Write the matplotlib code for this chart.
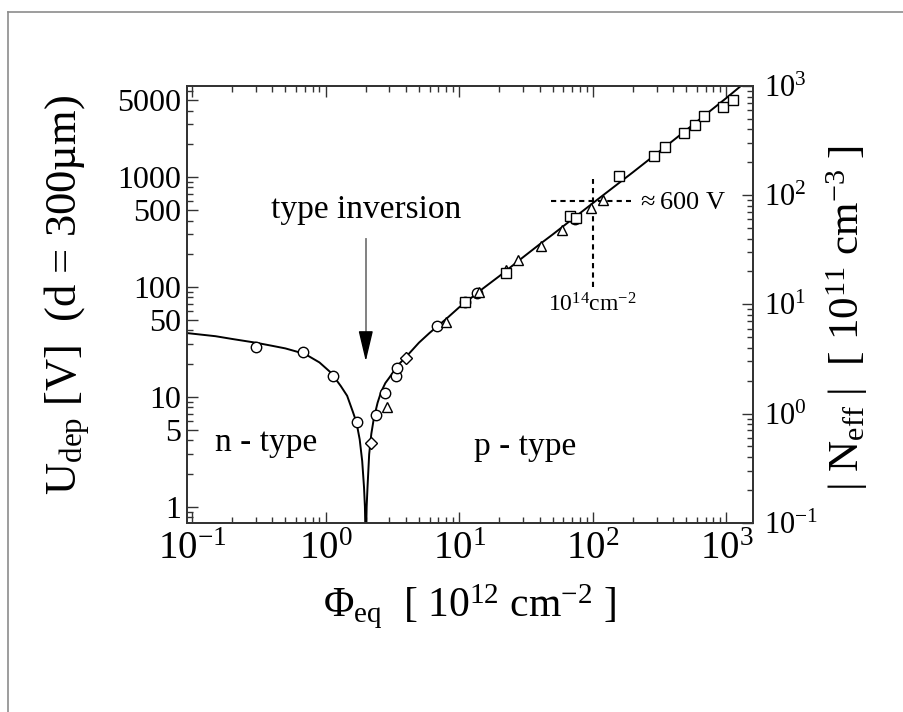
import matplotlib
matplotlib.use("Agg")
import matplotlib.pyplot as plt
from matplotlib.lines import Line2D
from matplotlib.ticker import FixedLocator, FixedFormatter, LogLocator, LogFormatterMathtext, NullFormatter

plt.rcParams["font.family"] = ["Liberation Serif", "DejaVu Serif"]
plt.rcParams["mathtext.fontset"] = "custom"
plt.rcParams["mathtext.rm"] = "Liberation Serif"
plt.rcParams["mathtext.it"] = "Liberation Serif:italic"
plt.rcParams["mathtext.bf"] = "Liberation Serif:bold"

# Fit curve |U_dep| vs fluence (n-type branch, then p-type branch)
curve_phi = [0.09, 0.15, 0.2, 0.3, 0.4, 0.5, 0.7, 0.9, 1.1, 1.3, 1.45, 1.6, 1.7, 1.8,
             1.88, 1.94, 1.97, 2.0,
             2.03, 2.06, 2.12, 2.2, 2.3, 2.45, 2.6, 2.8, 3.0, 3.5, 4.0, 5.0, 6.0, 7.0,
             8.0, 10.0, 11.0, 15.0, 20.0, 30.0, 40.0, 50.0, 70.0, 100.0, 150.0, 200.0,
             300.0, 500.0, 700.0, 1000.0, 1400.0]
curve_u = [38.0, 35.5, 33.5, 31.0, 29.0, 27.5, 24.5, 20.5, 16.5, 12.5, 10.2, 7.3, 5.9, 4.1,
           2.6, 1.5, 1.0, 0.4,
           1.0, 1.5, 3.0, 4.6, 6.4, 8.8, 11.0, 13.3, 14.9, 19.5, 23.0, 31.0, 38.0, 44.5,
           51.0, 65.0, 71.0, 96.0, 125.0, 185.0, 243.0, 298.0, 410.0, 575.0, 840.0, 1100.0,
           1620.0, 2650.0, 3680.0, 5200.0, 7300.0]

# Measured depletion voltages
circ_phi = [0.303, 0.673, 1.13, 1.71, 2.38, 2.77, 3.35, 3.4, 6.82, 11.0, 13.5, 73.0]
circ_u = [28.5, 25.3, 15.5, 5.85, 6.82, 10.7, 15.4, 18.1, 44.0, 73.0, 87.0, 410.0]

diam_phi = [2.17, 4.03]
diam_u = [3.77, 22.3]

tri_phi = [2.86, 8.0, 14.1, 22.5, 27.5, 41.1, 59.1, 97.3, 120.0]
tri_u = [8.1, 48.0, 89.0, 141.0, 175.0, 235.0, 325.0, 520.0, 620.0]

sq_phi = [11.0, 22.5, 67.7, 74.5, 158.0, 289.0, 349.0, 484.0, 585.0, 684.0, 948.0, 1112.0]
sq_u = [73.0, 132.0, 439.0, 419.0, 1015.0, 1542.0, 1850.0, 2477.0, 2950.0, 3565.0, 4330.0, 4980.0]

# Axis ticks
u_ticks = [1, 5, 10, 50, 100, 500, 1000, 5000]
u_tick_labels = ["1", "5", "10", "50", "100", "500", "1000", "5000"]

# Reference marks: 10^14 cm^-2 and about 600 V
ref_phi = 100.0
ref_u = 600.0
ref_phi_span = [48.9, 193.6]
ref_u_span = [100.0, 950.0]

# Type inversion point
inv_phi = 2.0
inv_arrow_u = [270.0, 21.0]

fig = plt.figure(figsize=(9.04, 7.12), dpi=100)
ax = fig.add_axes([0.2065, 0.2659, 0.6268, 0.6133])
ax.set_xscale("log")
ax.set_yscale("log")
ax.set_xlim(0.0913, 1590)
ax.set_ylim(0.716, 6680)

ax.plot(curve_phi, curve_u, color="black", lw=1.4, zorder=3)
mk = dict(ls="none", mfc="white", mec="black", mew=1.0, ms=7.5, zorder=4)
ax.plot(circ_phi, circ_u, marker="o", **mk)
ax.plot(diam_phi, diam_u, marker="D", **dict(mk, ms=6))
ax.plot(tri_phi, tri_u, marker="^", **mk)
ax.plot(sq_phi, sq_u, marker="s", **mk)

# dashed guides
ax.plot(ref_phi_span, [ref_u, ref_u], color="black", lw=1.5, ls=(0, (2.5, 2)), zorder=2)
ax.plot([ref_phi, ref_phi], ref_u_span, color="black", lw=1.5, ls=(0, (2.5, 2)), zorder=2)

# type inversion arrow
ax.plot([inv_phi, inv_phi], [inv_arrow_u[0], inv_arrow_u[1] * 1.3], color="#777777", lw=1.3)
ax.annotate("", xy=(inv_phi, inv_arrow_u[1]), xytext=(inv_phi, inv_arrow_u[1] * 1.6),
            arrowprops=dict(arrowstyle="-|>,head_length=1.9,head_width=0.45",
                            color="black", lw=1.0, mutation_scale=10,
                            shrinkA=0, shrinkB=0))

ax.text(inv_phi, 500, "type inversion", ha="center", va="center", fontsize=24)
ax.text(0.362, 3.8, "n - type", ha="center", va="center", fontsize=24)
ax.text(31.4, 3.5, "p - type", ha="center", va="center", fontsize=24)
ax.text(215, 580, r"$\approx$600 V", ha="left", va="center", fontsize=19)
ax.text(ref_phi, 68, r"10$^{14}$cm$^{-2}$", ha="center", va="center", fontsize=17)

# ticks
ax.yaxis.set_major_locator(FixedLocator(u_ticks))
ax.yaxis.set_major_formatter(FixedFormatter(u_tick_labels))
ax.yaxis.set_minor_locator(LogLocator(base=10, subs=(2, 3, 4, 6, 7, 8, 9), numticks=20))
ax.yaxis.set_minor_formatter(NullFormatter())
ax.xaxis.set_major_locator(LogLocator(base=10, numticks=20))
ax.xaxis.set_major_formatter(LogFormatterMathtext())
ax.xaxis.set_minor_locator(LogLocator(base=10, subs=tuple(range(2, 10)), numticks=20))
ax.xaxis.set_minor_formatter(NullFormatter())

ax.tick_params(axis="x", which="both", direction="in", top=True, bottom=True,
               labelsize=28, pad=6, color="#333333")
ax.tick_params(axis="y", which="both", direction="in", left=True, right=False,
               labelsize=23, pad=4, color="#333333")
ax.tick_params(which="major", length=8, width=1.0)
ax.tick_params(which="minor", length=4, width=1.0)

ax2 = ax.twinx()
ax2.set_yscale("log")
ax2.set_ylim(0.1, 1000)
ax2.yaxis.set_major_locator(LogLocator(base=10, numticks=20))
ax2.yaxis.set_major_formatter(LogFormatterMathtext())
ax2.yaxis.set_minor_locator(LogLocator(base=10, subs=tuple(range(2, 10)), numticks=20))
ax2.yaxis.set_minor_formatter(NullFormatter())
ax2.tick_params(axis="y", which="both", direction="in", labelsize=22, pad=8, color="#333333")
ax2.tick_params(which="major", length=8, width=1.0)
ax2.tick_params(which="minor", length=4, width=1.0)

for a in (ax, ax2):
    for s in a.spines.values():
        s.set_color("#333333")
        s.set_linewidth(1.3)

fig.text(0.074, 0.585, r"U$_{\mathrm{dep}}$ [V]  (d = 300µm)", rotation=90,
         ha="center", va="center", fontsize=32)
fig.text(0.937, 0.553, r"| N$_{\mathrm{eff}}$ |  [ 10$^{11}$ cm$^{-3}$ ]", rotation=90,
         ha="center", va="center", fontsize=31)
fig.text(0.519, 0.148, r"$\mathrm{\Phi}_{\mathrm{eq}}$  [ 10$^{12}$ cm$^{-2}$ ]",
         ha="center", va="center", fontsize=30)

# page frame
fig.add_artist(Line2D([8 / 904, 1.0], [1 - 12 / 712, 1 - 12 / 712],
                      transform=fig.transFigure, color="#8c8c8c", lw=1.2))
fig.add_artist(Line2D([8 / 904, 8 / 904], [0.0, 1 - 12 / 712],
                      transform=fig.transFigure, color="#8c8c8c", lw=1.2))

fig.savefig("out.png", dpi=100)
